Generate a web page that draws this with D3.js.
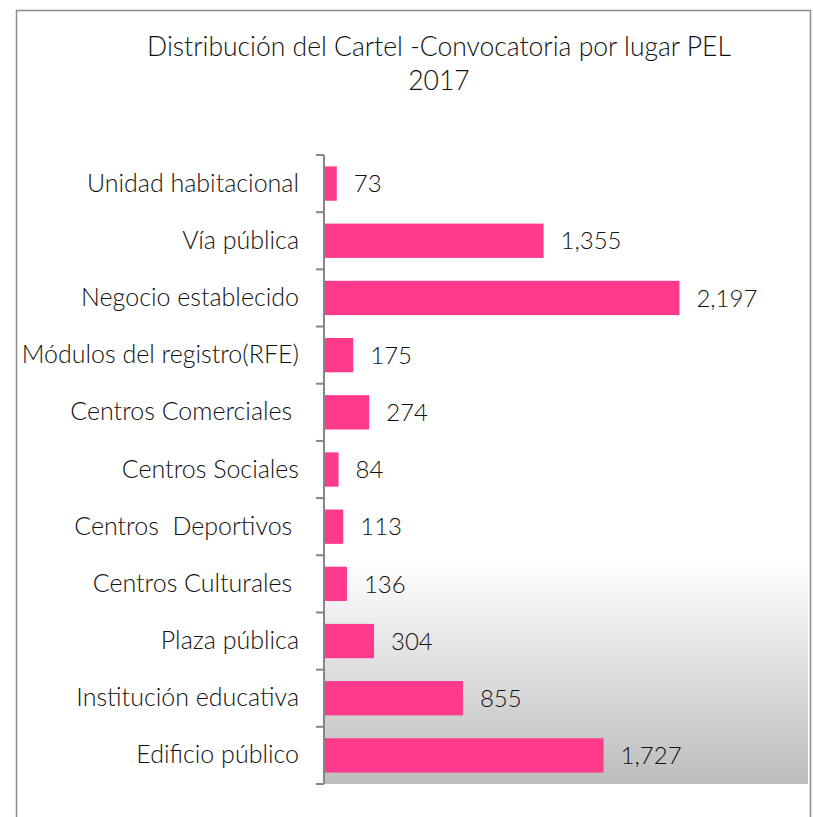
<!DOCTYPE html>
<html>
<head>
<meta charset="utf-8">
<script src="https://cdn.jsdelivr.net/npm/d3@7"></script>
<style>
    body { margin: 0; background: #fff; }
    text { font-family: Lato, "Open Sans", sans-serif; font-weight: 300; fill: #111; }
</style>
</head>
<body>
<div id="chart"></div>
<script>
var categories = [
    'Unidad habitacional',
    'Vía pública',
    'Negocio establecido',
    'Módulos del registro(RFE)',
    'Centros Comerciales ',
    'Centros Sociales',
    'Centros  Deportivos ',
    'Centros Culturales ',
    'Plaza pública',
    'Institución educativa',
    'Edificio público'
];
var values = [73, 1355, 2197, 175, 274, 84, 113, 136, 304, 855, 1727];
var titleLines = ['Distribución del Cartel -Convocatoria por lugar PEL', '2017'];

function drawChart() {

    var width = 813;
    var height = 817;
    var plotLeft = 324, plotRight = 808, plotTop = 155, plotBottom = 784;

    var svg = d3.select('#chart')
        .append('svg')
        .attr('width', width)
        .attr('height', height);

    // plot area gradient
    var grad = svg.append('defs').append('linearGradient')
        .attr('id', 'bg')
        .attr('x1', 0).attr('y1', 0)
        .attr('x2', 0).attr('y2', 1);
    grad.append('stop').attr('offset', '0.64').attr('stop-color', '#ffffff');
    grad.append('stop').attr('offset', '1').attr('stop-color', '#bdbdbd');

    // outer border (bottom edge falls outside the picture)
    svg.append('rect')
        .attr('x', 16.5)
        .attr('y', 10.5)
        .attr('width', 794)
        .attr('height', 830)
        .attr('fill', 'none')
        .attr('stroke', '#8c8c8c')
        .attr('stroke-width', 1.5);

    svg.append('rect')
        .attr('x', plotLeft)
        .attr('y', plotTop)
        .attr('width', plotRight - plotLeft)
        .attr('height', plotBottom - plotTop)
        .attr('fill', 'url(#bg)');

    var xScale = d3.scaleLinear()
        .domain([0, 3000])
        .range([plotLeft, plotRight]);

    var yScale = d3.scaleBand()
        .domain(categories)
        .range([plotTop, plotBottom])
        .paddingInner(0.4)
        .paddingOuter(0.2);

    var rows = categories.map(function (c, i) {
        return {name: c, value: values[i]};
    });

    svg.selectAll('rect.bar')
        .data(rows)
        .enter()
        .append('rect')
        .attr('class', 'bar')
        .attr('x', xScale(0) + 1)
        .attr('y', function (d) {
            return yScale(d.name);
        })
        .attr('width', function (d) {
            return xScale(d.value) - xScale(0);
        })
        .attr('height', yScale.bandwidth())
        .attr('fill', '#ff3a8c');

    svg.selectAll('text.value')
        .data(rows)
        .enter()
        .append('text')
        .attr('class', 'value')
        .attr('x', function (d) {
            return xScale(d.value) + 18;
        })
        .attr('y', function (d) {
            return yScale(d.name) + yScale.bandwidth() / 2;
        })
        .attr('dy', '0.36em')
        .style('font-size', '24px')
        .text(function (d) {
            return d3.format(',')(d.value);
        });

    // category axis: line with ticks between categories
    var yAxis = d3.axisLeft()
        .scale(yScale)
        .tickSize(0)
        .tickPadding(25)
        .tickSizeOuter(0);

    var axis = svg.append('g')
        .attr('class', 'axis')
        .attr('transform', 'translate(' + plotLeft + ', 0)')
        .call(yAxis);

    axis.select('.domain').remove();
    axis.selectAll('text')
        .style('font-size', '25px')
        .style('font-family', 'Lato, "Open Sans", sans-serif')
        .style('font-weight', 300)
        .style('white-space', 'pre')
        .attr('fill', '#111');

    var boundaries = d3.range(categories.length + 1).map(function (i) {
        return plotTop + i * (plotBottom - plotTop) / categories.length;
    });

    axis.append('line')
        .attr('x1', 0).attr('x2', 0)
        .attr('y1', plotTop).attr('y2', plotBottom)
        .attr('stroke', '#868686')
        .attr('stroke-width', 2);

    axis.selectAll('line.tick-b')
        .data(boundaries)
        .enter()
        .append('line')
        .attr('class', 'tick-b')
        .attr('x1', -8).attr('x2', 0)
        .attr('y1', function (d) { return d; })
        .attr('y2', function (d) { return d; })
        .attr('stroke', '#868686')
        .attr('stroke-width', 2);

    svg.selectAll('text.title')
        .data(titleLines)
        .enter()
        .append('text')
        .attr('class', 'title')
        .attr('x', 439)
        .attr('y', function (d, i) {
            return 56 + i * 34;
        })
        .style('text-anchor', 'middle')
        .style('font-size', '26.5px')
        .text(function (d) { return d; });
}

drawChart();
</script>
</body>
</html>
